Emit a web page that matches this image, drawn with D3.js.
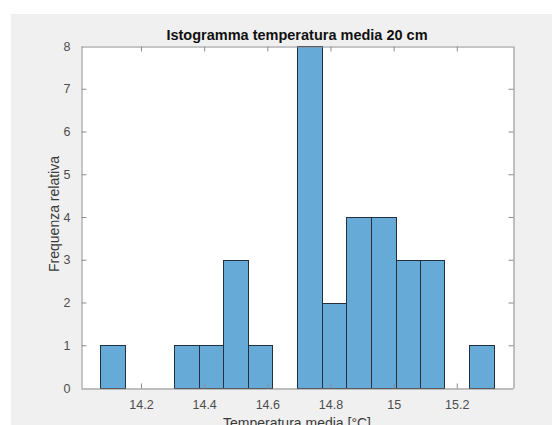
<!DOCTYPE html>
<html lang="en">
    <head>
        <meta charset="utf-8">
        <title>Istogramma temperatura media 20 cm</title>
        <script src="https://d3js.org/d3.v7.min.js"></script>
        <style type="text/css">
            body {
                margin: 0;
                background: white;
            }
            svg text {
                font-family: Arial, "Liberation Sans", Helvetica, sans-serif;
            }
            .tick text {
                font-size: 12.5px;
                fill: #4d4d4d;
            }
            .bar {
                fill: #66aad7;
                stroke: #24303d;
                stroke-width: 1px;
            }
        </style>
    </head>
    <body>
        <script type="text/javascript">

            // histogram bins
            const binEdges = [14.071, 14.149, 14.227, 14.305, 14.383, 14.461, 14.538, 14.616, 14.694,
                              14.772, 14.850, 14.928, 15.006, 15.084, 15.161, 15.239, 15.317];
            const counts = [1, 0, 0, 1, 1, 3, 1, 0, 8, 2, 4, 4, 3, 3, 0, 1];
            const xTicks = [14.2, 14.4, 14.6, 14.8, 15, 15.2];
            const xTickLabels = ["14.2", "14.4", "14.6", "14.8", "15", "15.2"];
            const yTicks = [0, 1, 2, 3, 4, 5, 6, 7, 8];

            const w = 552;
            const h = 425;
            const plotLeft = 81, plotRight = 513, plotTop = 46, plotBottom = 388;

            const bins = counts.map((c, i) => ({x0: binEdges[i], x1: binEdges[i + 1], n: c}));

            const xScale = d3.scaleLinear()
                             .domain([14.01, 15.378])
                             .range([plotLeft, plotRight]);

            const yScale = d3.scaleLinear()
                             .domain([0, 8])
                             .range([plotBottom, plotTop]);

            const svg = d3.select("body")
                    .append("svg")
                    .attr("width", w)
                    .attr("height", h);

            // figure background
            svg.append("rect")
               .attr("x", 11).attr("y", 14)
               .attr("width", w - 11).attr("height", h - 14)
               .attr("fill", "#f0f0f0");

            svg.append("rect")
               .attr("x", plotLeft).attr("y", plotTop)
               .attr("width", plotRight - plotLeft).attr("height", plotBottom - plotTop)
               .attr("fill", "white");

            //bars
            svg.selectAll(".bar")
               .data(bins.filter(d => d.n > 0))
               .join("rect")
               .attr("class", "bar")
               .attr("x", d => Math.round(xScale(d.x0)) + 0.5)
               .attr("y", d => Math.round(yScale(d.n)) + 0.5)
               .attr("width", d => Math.round(xScale(d.x1)) - Math.round(xScale(d.x0)))
               .attr("height", d => Math.round(yScale(0)) - Math.round(yScale(d.n)));

            //axes, ticks inward like matlab
            const axisColor = "#8c8c8c";

            const bottomAxis = d3.axisBottom(xScale)
                                 .tickValues(xTicks)
                                 .tickFormat((d, i) => xTickLabels[i])
                                 .tickSizeInner(-5)
                                 .tickSizeOuter(0)
                                 .tickPadding(12);
            const gx = svg.append("g")
               .attr("transform", "translate(0," + (plotBottom + 0.5) + ")")
               .call(bottomAxis);

            const topAxis = d3.axisTop(xScale)
                              .tickValues(xTicks)
                              .tickFormat("")
                              .tickSizeInner(-5)
                              .tickSizeOuter(0);
            const gxt = svg.append("g")
               .attr("transform", "translate(0," + (plotTop + 0.5) + ")")
               .call(topAxis);

            const leftAxis = d3.axisLeft(yScale)
                               .tickValues(yTicks)
                               .tickFormat(d3.format("d"))
                               .tickSizeInner(-5)
                               .tickSizeOuter(0)
                               .tickPadding(11);
            const gy = svg.append("g")
               .attr("transform", "translate(" + (plotLeft + 0.5) + ",0)")
               .call(leftAxis);

            const rightAxis = d3.axisRight(yScale)
                                .tickValues(yTicks)
                                .tickFormat("")
                                .tickSizeInner(-5)
                                .tickSizeOuter(0);
            const gyr = svg.append("g")
               .attr("transform", "translate(" + (plotRight + 0.5) + ",0)")
               .call(rightAxis);

            [gx, gxt, gy, gyr].forEach(g => {
                g.selectAll("path, line").attr("stroke", axisColor);
                g.selectAll(".tick text").attr("font-family", null).attr("font-size", null);
            });
            gy.selectAll(".tick").filter(d => d === 0 || d === 8).select("line").remove();
            gyr.selectAll(".tick").filter(d => d === 0 || d === 8).select("line").remove();

            //labels
            svg.append("text")
               .attr("x", (plotLeft + plotRight) / 2)
               .attr("y", 40)
               .attr("text-anchor", "middle")
               .attr("font-size", "14.5px")
               .attr("font-weight", "bold")
               .attr("fill", "#111")
               .text("Istogramma temperatura media 20 cm");

            svg.append("text")
               .attr("x", (plotLeft + plotRight) / 2)
               .attr("y", 428)
               .attr("text-anchor", "middle")
               .attr("font-size", "14px")
               .attr("fill", "#3a3a3a")
               .text("Temperatura media [°C]");

            svg.append("text")
               .attr("transform", "translate(59," + ((plotTop + plotBottom) / 2 - 3) + ") rotate(-90)")
               .attr("text-anchor", "middle")
               .attr("font-size", "14px")
               .attr("fill", "#3a3a3a")
               .text("Frequenza relativa");

        </script>
    </body>
</html>
